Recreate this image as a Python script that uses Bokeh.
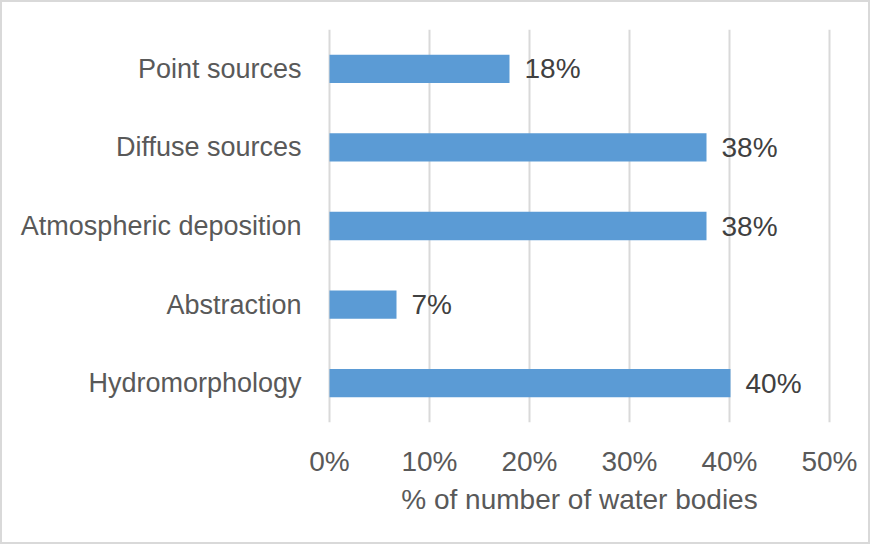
from bokeh.plotting import figure
from bokeh.models import ColumnDataSource, Range1d, FactorRange, NumeralTickFormatter, FixedTicker
from bokeh.core.properties import value
from bokeh.embed import file_html
from bokeh.resources import INLINE

categories = ["Point sources", "Diffuse sources", "Atmospheric deposition", "Abstraction", "Hydromorphology"]
shares = [0.180, 0.377, 0.377, 0.067, 0.401]
share_labels = ["18%", "38%", "38%", "7%", "40%"]
x_ticks = [0.0, 0.1, 0.2, 0.3, 0.4, 0.5]

src = ColumnDataSource(dict(cat=categories, val=shares, lab=share_labels))

p = figure(width=870, height=544, output_backend="svg", toolbar_location=None,
           x_range=Range1d(-0.002, 0.502),
           y_range=FactorRange(factors=list(reversed(categories))),
           min_border_left=325, min_border_right=41, min_border_top=27, min_border_bottom=124)
p.styles = {"border": "2px solid #d9d9d9", "box-sizing": "border-box"}
p.outline_line_color = None
p.background_fill_color = "white"
p.border_fill_color = "white"

p.hbar(y="cat", right="val", left=0, height=0.36, source=src, color="#5b9bd5", line_color=None)
p.text(x="val", y="cat", text="lab", source=src, x_offset=15, text_align="left",
       text_baseline="middle", text_font=value("Liberation Sans"), text_font_size="28px",
       text_color="#404040")

p.xgrid.ticker = FixedTicker(ticks=x_ticks)
p.xgrid.grid_line_color = "#d9d9d9"
p.xgrid.grid_line_width = 2
p.ygrid.grid_line_color = None

xa = p.xaxis[0]
xa.ticker = FixedTicker(ticks=x_ticks)
xa.formatter = NumeralTickFormatter(format="0%")
xa.axis_line_color = None
xa.major_tick_line_color = None
xa.minor_tick_line_color = None
xa.major_label_text_font = "Liberation Sans"
xa.major_label_text_font_size = "28px"
xa.major_label_text_color = "#595959"
xa.major_label_standoff = 17
xa.axis_label = "% of number of water bodies"
xa.axis_label_text_font = "Liberation Sans"
xa.axis_label_text_font_size = "28px"
xa.axis_label_text_font_style = "normal"
xa.axis_label_text_color = "#595959"
xa.axis_label_standoff = 4

ya = p.yaxis[0]
ya.axis_line_color = None
ya.major_tick_line_color = None
ya.minor_tick_line_color = None
ya.major_label_text_font = "Liberation Sans"
ya.major_label_text_font_size = "27px"
ya.major_label_text_color = "#595959"
ya.major_label_standoff = 20

open("out.html", "w").write(file_html(p, INLINE))
